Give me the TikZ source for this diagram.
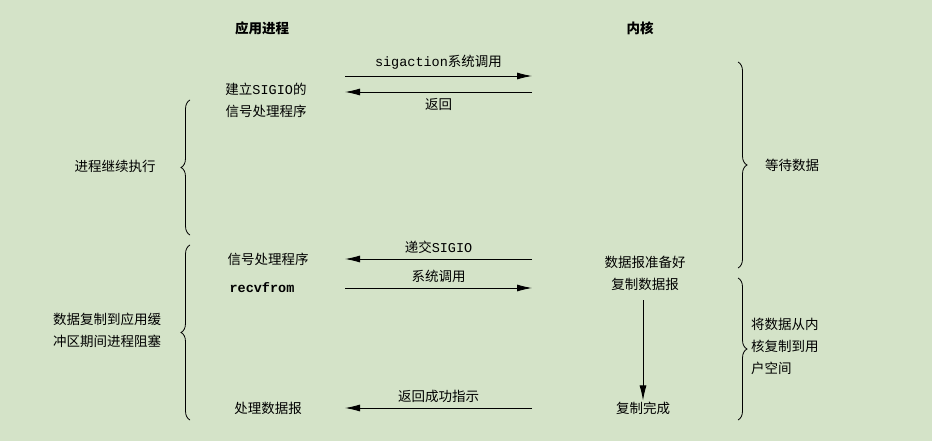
\documentclass[tikz,border=0pt]{standalone}
\usepackage{fontspec}
\setmainfont{Noto Sans CJK SC}
\setmonofont{Liberation Mono}
\usetikzlibrary{decorations.pathreplacing,arrows.meta}
\definecolor{bg}{HTML}{D4E3C8}
\begin{document}
\begin{tikzpicture}[x=1pt,y=-1pt,
  lbl/.style={font=\fontsize{13.5}{22}\selectfont,inner sep=1pt},
  hd/.style={font=\fontsize{13.5}{16}\selectfont\bfseries},
  arr/.style={-{Latex[length=15pt,width=7pt]},line width=0.9pt},
  br/.style={decorate,decoration={brace,amplitude=9pt},line width=0.8pt}]
\fill[bg] (0,0) rectangle (932,441);
\useasboundingbox (0,0) rectangle (932,441);
\node[hd] (app) at (262,28) {应用进程};
\node[hd] (ker) at (640,28) {内核};
\coordinate (a1l) at (345,76); \coordinate (a1r) at (532,76);
\draw[arr] (a1l) -- (a1r) node[lbl,midway,above=5pt] (t1) {\texttt{sigaction}系统调用};
\coordinate (a2l) at (345,92); \coordinate (a2r) at (532,92);
\draw[arr] (a2r) -- (a2l) node[lbl,midway,below=5pt] (t2) {返回};
\node[lbl,align=center] (set) at (266,100) {建立\texttt{SIGIO}的\\信号处理程序};
\coordinate (b1a) at (190,420); \coordinate (b1b) at (190,245);
\coordinate (b0a) at (190,235); \coordinate (b0b) at (190,100);
\draw[br] (b0a) -- (b0b);
\node[lbl] (cont) at (115,166) {进程继续执行};
\coordinate (k1a) at (738,62); \coordinate (k1b) at (738,268);
\draw[br] (k1a) -- (k1b);
\node[lbl] (wait) at (792,165) {等待数据};
\coordinate (a3l) at (345,259); \coordinate (a3r) at (532,259);
\draw[arr] (a3r) -- (a3l) node[lbl,midway,above=4pt] (t3) {递交\texttt{SIGIO}};
\node[lbl] (sh) at (268,259) {信号处理程序};
\node[lbl,font=\fontsize{13.5}{16}\selectfont\ttfamily\bfseries] (rf) at (262,288) {recvfrom};
\coordinate (a4l) at (345,288); \coordinate (a4r) at (532,288);
\draw[arr] (a4l) -- (a4r) node[lbl,midway,above=4pt] (t4) {系统调用};
\node[lbl] (ready) at (645,262) {数据报准备好};
\node[lbl] (copy) at (645,284) {复制数据报};
\node[lbl] (done) at (643,408) {复制完成};
\coordinate (dtop) at (643,300);
\draw[arr] (dtop) -- (done.north);
\draw[br] (b1a) -- (b1b);
\node[lbl,align=center] (blk) at (107,330) {数据复制到应用缓\\冲区期间进程阻塞};
\coordinate (k2a) at (738,278); \coordinate (k2b) at (738,420);
\draw[br] (k2a) -- (k2b);
\node[lbl,align=left,anchor=west] (kc) at (750,346) {将数据从内\\核复制到用\\户空间};
\node[lbl] (proc) at (268,408) {处理数据报};
\coordinate (a5l) at (345,408); \coordinate (a5r) at (532,408);
\draw[arr] (a5r) -- (a5l) node[lbl,midway,above=4pt] (t5) {返回成功指示};
\end{tikzpicture}
\end{document}
